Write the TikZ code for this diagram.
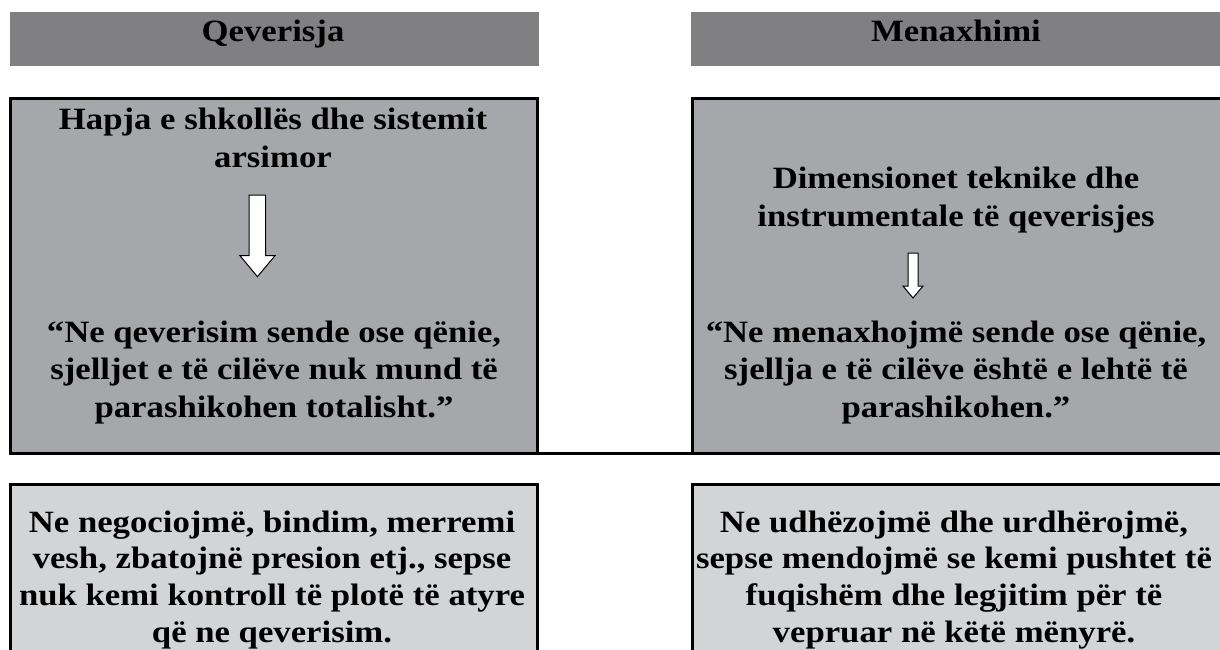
\documentclass[tikz,border=0pt]{standalone}
\usepackage{fontspec}
\setmainfont{Liberation Serif}[FakeStretch=1.12]
\definecolor{hdrgray}{RGB}{128,128,130}
\definecolor{maingray}{RGB}{166,167,171}
\definecolor{lightgray2}{RGB}{211,212,214}
\begin{document}
\begin{tikzpicture}[x=1pt,y=-1pt,
  hdrbox/.style={fill=hdrgray, draw=none, anchor=north west, outer sep=0pt, inner sep=0pt},
  mainbox/.style={fill=maingray, draw=black, line width=3pt, anchor=north west, outer sep=0pt, inner sep=0pt},
  lowbox/.style={fill=lightgray2, draw=black, line width=3pt, anchor=north west, outer sep=0pt, inner sep=0pt},
  txt/.style={font=\bfseries\fontsize{31}{37.3}\selectfont, align=center, anchor=base, inner sep=0pt},
  lowtxt/.style={font=\bfseries\fontsize{31}{36.6}\selectfont, align=center, anchor=base, inner sep=0pt},
  blockarrow/.style={fill=white, draw=black, line width=1pt, line join=miter}
]
\useasboundingbox (0,0) rectangle (1220,650);
\clip (0,0) rectangle (1220,650);
% headers
\node[hdrbox, minimum width=529pt, minimum height=54pt] (hl) at (10,12) {};
\node[hdrbox, minimum width=534pt, minimum height=54pt] (hr) at (691,12) {};
\node[txt] (thl) at (273,42) {Qeverisja};
\node[txt] (thr) at (956,42) {Menaxhimi};
% main boxes
\node[mainbox, minimum width=527pt, minimum height=354.5pt] (ml) at (10.5,98.5) {};
\node[mainbox, minimum width=532.5pt, minimum height=354.5pt] (mr) at (692.5,98.5) {};
\draw[line width=3pt] (ml.south east) -- (mr.south west);
% low boxes
\node[lowbox, minimum width=527pt, minimum height=200pt] (ll) at (10.5,484.8) {};
\node[lowbox, minimum width=532.5pt, minimum height=200pt] (lr) at (692.5,484.8) {};
% texts left main (anchor base = last line)
\node[txt] (t1) at (273,167) {Hapja e shkollës dhe sistemit\\arsimor};
\node[txt] (t2) at (274,417) {“Ne qeverisim sende ose qënie,\\sjelljet e të cilëve nuk mund të\\parashikohen totalisht.”};
% texts right main
\node[txt] (t3) at (956,226) {Dimensionet teknike dhe\\instrumentale të qeverisjes};
\node[txt] (t4) at (956,417) {“Ne menaxhojmë sende ose qënie,\\sjellja e të cilëve është e lehtë të\\parashikohen.”};
% low texts
\node[lowtxt] (t5) at (272,642) {Ne negociojmë, bindim, merremi\\vesh, zbatojnë presion etj., sepse\\nuk kemi kontroll të plotë të atyre\\që ne qeverisim.};
\node[lowtxt] (t6) at (954,642) {Ne udhëzojmë dhe urdhërojmë,\\sepse mendojmë se kemi pushtet të\\fuqishëm dhe legjitim për të\\vepruar në këtë mënyrë.};
% arrows
\draw[blockarrow] (249,195) -- (265.7,195) -- (265.7,255.7) -- (275,255.7) -- (257.4,276.7) -- (240,255.7) -- (249,255.7) -- cycle;
\draw[blockarrow] (908,253) -- (918,253) -- (918,286) -- (923,286) -- (913,298) -- (903,286) -- (908,286) -- cycle;
\end{tikzpicture}
\end{document}
